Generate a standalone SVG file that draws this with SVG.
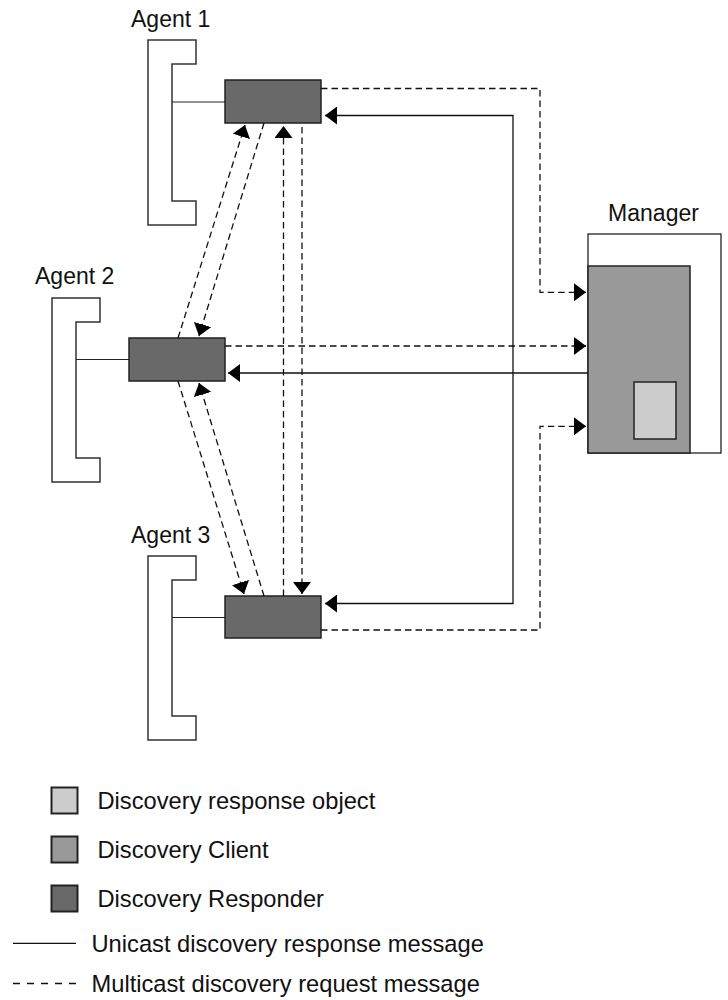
<svg xmlns="http://www.w3.org/2000/svg" width="728" height="1000" viewBox="0 0 728 1000">
<style>
text{font-family:"Liberation Sans",Arial,Helvetica,sans-serif;font-size:23px;fill:#111}
.lg{font-size:23.7px}
.br{fill:#fff;stroke:#333;stroke-width:1.5}
.ln{stroke:#222;stroke-width:1.2;fill:none}
.resp{fill:#696969;stroke:#222;stroke-width:1.5}
.cli{fill:#999;stroke:#222;stroke-width:1.5}
.obj{fill:#ccc;stroke:#222;stroke-width:1.5}
.solid{stroke:#111;stroke-width:1.3;fill:none}
.dash{stroke:#111;stroke-width:1.3;fill:none;stroke-dasharray:6.5,4}
</style>
<defs>
<marker id="ah" markerUnits="userSpaceOnUse" markerWidth="12" markerHeight="18" viewBox="0 0 12 18" refX="12" refY="9" orient="auto">
<path d="M0,0 L12,9 L0,18 Z" fill="#000" stroke="none"/>
</marker>
</defs>

<g id="agent1">
<text x="131" y="26.7">Agent 1</text>
<path class="br" d="M148,40 H196 V64 H172 V201 H196 V225 H148 Z"/>
<line class="ln" x1="172" y1="102" x2="225" y2="102"/>
<rect class="resp" x="225" y="80" width="96" height="43"/>
</g>

<g id="agent2">
<text x="35" y="284.3">Agent 2</text>
<path class="br" d="M52,298 H100 V322 H76 V458 H100 V482 H52 Z"/>
<line class="ln" x1="76" y1="359.5" x2="129" y2="359.5"/>
<rect class="resp" x="129" y="338" width="96" height="43"/>
</g>

<g id="agent3">
<text x="131" y="542.7">Agent 3</text>
<path class="br" d="M148,556 H196 V580 H172 V716 H196 V740 H148 Z"/>
<line class="ln" x1="172" y1="617.5" x2="225" y2="617.5"/>
<rect class="resp" x="225" y="596" width="96" height="42"/>
</g>

<g id="manager">
<text x="653.5" y="220.7" text-anchor="middle">Manager</text>
<rect x="588" y="234" width="133" height="219" fill="#fff" stroke="#222" stroke-width="1.3"/>
<rect class="cli" x="588" y="266" width="102" height="187"/>
<rect class="obj" x="634" y="382" width="42" height="57"/>
</g>

<g id="connectors">
<path class="dash" d="M321,88.5 H540 V292.3 H586" marker-end="url(#ah)"/>
<path class="dash" d="M225,346 H586" marker-end="url(#ah)"/>
<path class="dash" d="M321,630 H540 V426.3 H586" marker-end="url(#ah)"/>
<path class="solid" d="M588,373 H228" marker-end="url(#ah)"/>
<path class="solid" d="M513,373 V115.5 H325" marker-end="url(#ah)"/>
<path class="solid" d="M513,373 V603.5 H325" marker-end="url(#ah)"/>
<path class="dash" d="M178,338 L245,125" marker-end="url(#ah)"/>
<path class="dash" d="M264,123 L199,336" marker-end="url(#ah)"/>
<path class="dash" d="M178,381 L244,594" marker-end="url(#ah)"/>
<path class="dash" d="M264,596 L199,383" marker-end="url(#ah)"/>
<path class="dash" d="M283.5,596 V126" marker-end="url(#ah)"/>
<path class="dash" d="M302,127 V594" marker-end="url(#ah)"/>
</g>

<g id="legend">
<rect x="51.5" y="787.5" width="26" height="26" fill="#ccc" stroke="#222" stroke-width="2"/>
<text class="lg" x="97.5" y="809">Discovery response object</text>
<rect x="51.5" y="836.5" width="26" height="26" fill="#999" stroke="#222" stroke-width="2"/>
<text class="lg" x="97.5" y="858">Discovery Client</text>
<rect x="51.5" y="885.5" width="26" height="26" fill="#696969" stroke="#222" stroke-width="2"/>
<text class="lg" x="97.5" y="906.7">Discovery Responder</text>
<line x1="13" y1="943.3" x2="76" y2="943.3" stroke="#111" stroke-width="1.3"/>
<text class="lg" x="91.5" y="951.7">Unicast discovery response message</text>
<line x1="13" y1="983.5" x2="76" y2="983.5" stroke="#111" stroke-width="1.3" stroke-dasharray="7,7"/>
<text class="lg" x="91.5" y="991.7">Multicast discovery request message</text>
</g>
</svg>
